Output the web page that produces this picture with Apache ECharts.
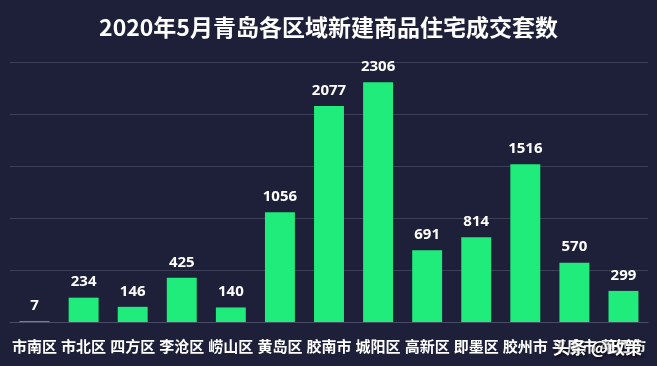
<!DOCTYPE html>
<html><head><meta charset="utf-8">
<script src="https://cdn.jsdelivr.net/npm/echarts@6/dist/echarts.min.js"></script>
<style>html,body{margin:0;padding:0;background:#1e1f38;}#c{width:657px;height:366px;}</style>
</head><body><div id="c"></div>
<script>
var categories = ['市南区','市北区','四方区','李沧区','崂山区','黄岛区','胶南市','城阳区','高新区','即墨区','胶州市','平度市','莱西市'];
var values = [7,234,146,425,140,1056,2077,2306,691,814,1516,570,299];
var title = '2020年5月青岛各区域新建商品住宅成交套数';
var watermark = '头条 @政策';
var chart = echarts.init(document.getElementById('c'));
chart.setOption({
  backgroundColor: '#1e1f38',
  title: {text: title, left: 'center', top: 11,
    textStyle: {color: '#ffffff', fontSize: 23, fontWeight: 'bold', fontFamily: 'Noto Sans CJK SC'}},
  grid: {left: 10, right: 9, top: 62, bottom: 44},
  xAxis: {type: 'category', data: categories,
    axisLine: {lineStyle: {color: '#4a4c66'}}, axisTick: {show: false},
    axisLabel: {color: '#ffffff', fontSize: 15, fontWeight: 'bold', interval: 0, margin: 17,
      fontFamily: 'Noto Sans CJK SC'}},
  yAxis: {type: 'value', min: 0, max: 2500, interval: 500,
    axisLabel: {show: false}, axisLine: {show: false}, axisTick: {show: false},
    splitLine: {lineStyle: {color: '#3d3f58', width: 1}}},
  series: [{type: 'bar', data: values, barWidth: '61%',
    itemStyle: {color: '#1fec7a'},
    label: {show: true, position: 'top', distance: 8, color: '#ffffff', fontSize: 15, fontWeight: 'bold',
      fontFamily: 'Noto Sans'}}],
  graphic: [{type: 'text', left: 553, top: 339, z: 100,
    style: {text: watermark, fill: '#ffffff', fontSize: 17, fontWeight: 'bold', fontFamily: 'Noto Sans CJK SC',
      textShadowColor: 'rgba(0,0,0,0.9)', textShadowBlur: 3, textShadowOffsetX: 1, textShadowOffsetY: 1}}]
});
</script></body></html>
